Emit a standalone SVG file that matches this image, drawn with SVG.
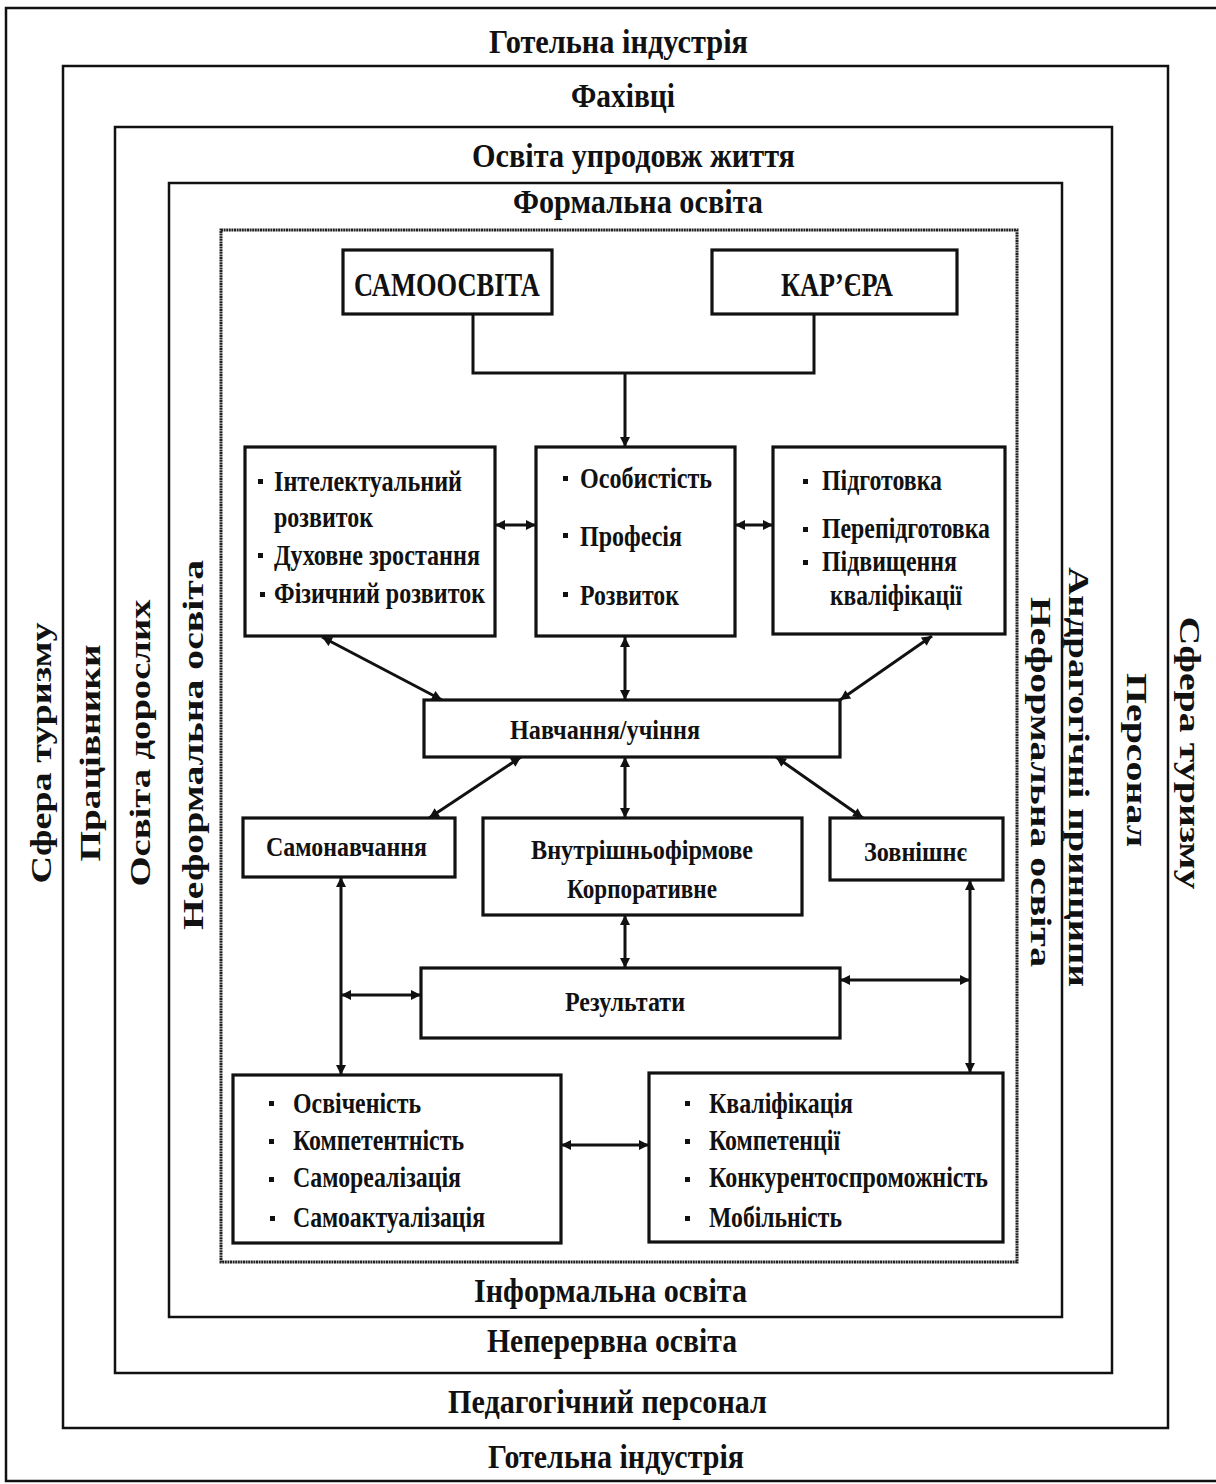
<svg xmlns="http://www.w3.org/2000/svg" width="1216" height="1484" viewBox="0 0 1216 1484">
<style>
.frame{fill:none;stroke:#111;stroke-width:2.5}
.inner{fill:none;stroke:#222;stroke-width:3;stroke-dasharray:2 0.6}
.box{fill:#fff;stroke:#111;stroke-width:3.2}
.t{font-family:"Liberation Serif","Times New Roman",serif;font-weight:bold;fill:#111}
.lbl{font-size:34px}
.vt{font-size:30px}
.it{font-size:29px}
.bx{font-size:28px}
.big{font-size:34px}
.conn{fill:none;stroke:#111;stroke-width:3}
.dbl{marker-start:url(#ah);marker-end:url(#ah)}
.one{marker-end:url(#ah)}
</style>
<defs>
<marker id="ah" viewBox="0 0 10 10" refX="10" refY="5" markerWidth="11" markerHeight="10" markerUnits="userSpaceOnUse" orient="auto-start-reverse">
<path d="M0,0 L10,5 L0,10 z" fill="#111"/>
</marker>
</defs>
<rect width="1216" height="1484" fill="#fff"/>

<g id="frames">
<rect id="frame-hotel" class="frame" x="6" y="8" width="1220" height="1473"/>
<rect id="frame-fakhivtsi" class="frame" x="63" y="66" width="1105" height="1362"/>
<rect id="frame-osvita-zhyttia" class="frame" x="115" y="127" width="997" height="1246"/>
<rect id="frame-formalna" class="frame" x="169" y="183" width="893" height="1134"/>
<rect id="frame-inner" class="inner" x="221" y="230" width="796" height="1032"/>
</g>

<g id="frame-labels">
<text class="t lbl" x="489" y="53" textLength="259" lengthAdjust="spacingAndGlyphs">Готельна індустрія</text>
<text class="t lbl" x="571" y="107" textLength="104" lengthAdjust="spacingAndGlyphs">Фахівці</text>
<text class="t lbl" x="472" y="167" textLength="323" lengthAdjust="spacingAndGlyphs">Освіта упродовж життя</text>
<text class="t lbl" x="513" y="213" textLength="250" lengthAdjust="spacingAndGlyphs">Формальна освіта</text>
<text class="t lbl" x="474" y="1302" textLength="273" lengthAdjust="spacingAndGlyphs">Інформальна освіта</text>
<text class="t lbl" x="487" y="1352" textLength="250" lengthAdjust="spacingAndGlyphs">Неперервна освіта</text>
<text class="t lbl" x="448" y="1413" textLength="319" lengthAdjust="spacingAndGlyphs">Педагогічний персонал</text>
<text class="t lbl" x="488" y="1468" textLength="256" lengthAdjust="spacingAndGlyphs">Готельна індустрія</text>

<text class="t vt" transform="translate(51,753) rotate(-90)" text-anchor="middle" textLength="261" lengthAdjust="spacingAndGlyphs">Сфера туризму</text>
<text class="t vt" transform="translate(100,753) rotate(-90)" text-anchor="middle" textLength="217" lengthAdjust="spacingAndGlyphs">Працівники</text>
<text class="t vt" transform="translate(150,743) rotate(-90)" text-anchor="middle" textLength="287" lengthAdjust="spacingAndGlyphs">Освіта дорослих</text>
<text class="t vt" transform="translate(203,745) rotate(-90)" text-anchor="middle" textLength="370" lengthAdjust="spacingAndGlyphs">Неформальна освіта</text>

<text class="t vt" transform="translate(1180,753) rotate(90)" text-anchor="middle" textLength="273" lengthAdjust="spacingAndGlyphs">Сфера туризму</text>
<text class="t vt" transform="translate(1127,760) rotate(90)" text-anchor="middle" textLength="174" lengthAdjust="spacingAndGlyphs">Персонал</text>
<text class="t vt" transform="translate(1069,777) rotate(90)" text-anchor="middle" textLength="420" lengthAdjust="spacingAndGlyphs">Андрагогічні принципи</text>
<text class="t vt" transform="translate(1031,782) rotate(90)" text-anchor="middle" textLength="370" lengthAdjust="spacingAndGlyphs">Неформальна освіта</text>
</g>

<g id="connectors">
<path class="conn" d="M473,314 V373 H814 V314"/>
<path class="conn one" d="M625,373 V447"/>
<path class="conn dbl" d="M495,525 H536"/>
<path class="conn dbl" d="M735,525 H773"/>
<path class="conn dbl" d="M322,637 L442,700"/>
<path class="conn dbl" d="M625,637 V700"/>
<path class="conn dbl" d="M932,636 L840,700"/>
<path class="conn dbl" d="M521,757 L429,818"/>
<path class="conn dbl" d="M625,757 V818"/>
<path class="conn dbl" d="M776,757 L863,818"/>
<path class="conn dbl" d="M625,915 V968"/>
<path class="conn dbl" d="M341,877 V1075"/>
<path class="conn dbl" d="M341,995 H421"/>
<path class="conn dbl" d="M970,880 V1073"/>
<path class="conn dbl" d="M840,980 H970"/>
<path class="conn dbl" d="M561,1145 H649"/>
</g>

<g id="samoosvita">
<rect class="box" x="343" y="250" width="209" height="64"/>
<text class="t big" x="354" y="296" textLength="186" lengthAdjust="spacingAndGlyphs">САМООСВІТА</text>
</g>
<g id="karyera">
<rect class="box" x="712" y="250" width="245" height="64"/>
<text class="t big" x="781" y="296" textLength="112" lengthAdjust="spacingAndGlyphs">КАР’ЄРА</text>
</g>

<g id="rozvytok-box">
<rect class="box" x="245" y="447" width="250" height="189"/>
<rect x="258" y="479" width="5" height="5" fill="#111"/>
<rect x="258" y="553" width="5" height="5" fill="#111"/>
<rect x="260" y="592" width="5" height="5" fill="#111"/>
<text class="t it" x="274" y="491" textLength="188" lengthAdjust="spacingAndGlyphs">Інтелектуальний</text>
<text class="t it" x="274" y="527" textLength="99" lengthAdjust="spacingAndGlyphs">розвиток</text>
<text class="t it" x="274" y="565" textLength="206" lengthAdjust="spacingAndGlyphs">Духовне зростання</text>
<text class="t it" x="274" y="603" textLength="211" lengthAdjust="spacingAndGlyphs">Фізичний розвиток</text>
</g>

<g id="osobystist-box">
<rect class="box" x="536" y="447" width="199" height="189"/>
<rect x="563" y="476" width="5" height="5" fill="#111"/>
<rect x="563" y="533" width="5" height="5" fill="#111"/>
<rect x="563" y="592" width="5" height="5" fill="#111"/>
<text class="t it" x="580" y="488" textLength="132" lengthAdjust="spacingAndGlyphs">Особистість</text>
<text class="t it" x="580" y="546" textLength="102" lengthAdjust="spacingAndGlyphs">Професія</text>
<text class="t it" x="580" y="605" textLength="99" lengthAdjust="spacingAndGlyphs">Розвиток</text>
</g>

<g id="pidhotovka-box">
<rect class="box" x="773" y="447" width="232" height="187"/>
<rect x="803" y="479" width="5" height="5" fill="#111"/>
<rect x="803" y="527" width="5" height="5" fill="#111"/>
<rect x="803" y="560" width="5" height="5" fill="#111"/>
<text class="t it" x="822" y="490" textLength="120" lengthAdjust="spacingAndGlyphs">Підготовка</text>
<text class="t it" x="822" y="538" textLength="168" lengthAdjust="spacingAndGlyphs">Перепідготовка</text>
<text class="t it" x="822" y="571" textLength="135" lengthAdjust="spacingAndGlyphs">Підвищення</text>
<text class="t it" x="830" y="605" textLength="132" lengthAdjust="spacingAndGlyphs">кваліфікації</text>
</g>

<g id="navchannia">
<rect class="box" x="424" y="700" width="416" height="57"/>
<text class="t bx" x="510" y="739" textLength="190" lengthAdjust="spacingAndGlyphs">Навчання/учіння</text>
</g>

<g id="samonavchannia">
<rect class="box" x="243" y="818" width="212" height="59"/>
<text class="t bx" x="266" y="856" textLength="161" lengthAdjust="spacingAndGlyphs">Самонавчання</text>
</g>

<g id="vnutrishnofirmove">
<rect class="box" x="483" y="818" width="319" height="97"/>
<text class="t bx" x="531" y="859" textLength="222" lengthAdjust="spacingAndGlyphs">Внутрішньофірмове</text>
<text class="t bx" x="567" y="898" textLength="150" lengthAdjust="spacingAndGlyphs">Корпоративне</text>
</g>

<g id="zovnishnie">
<rect class="box" x="830" y="818" width="173" height="62"/>
<text class="t bx" x="864" y="861" textLength="103" lengthAdjust="spacingAndGlyphs">Зовнішнє</text>
</g>

<g id="rezultaty">
<rect class="box" x="421" y="968" width="419" height="70"/>
<text class="t bx" x="565" y="1011" textLength="120" lengthAdjust="spacingAndGlyphs">Результати</text>
</g>

<g id="osvichenist-box">
<rect class="box" x="233" y="1075" width="328" height="168"/>
<rect x="269" y="1101" width="5" height="5" fill="#111"/>
<rect x="269" y="1139" width="5" height="5" fill="#111"/>
<rect x="269" y="1177" width="5" height="5" fill="#111"/>
<rect x="270" y="1216" width="5" height="5" fill="#111"/>
<text class="t it" x="293" y="1113" textLength="128" lengthAdjust="spacingAndGlyphs">Освіченість</text>
<text class="t it" x="293" y="1150" textLength="171" lengthAdjust="spacingAndGlyphs">Компетентність</text>
<text class="t it" x="293" y="1187" textLength="168" lengthAdjust="spacingAndGlyphs">Самореалізація</text>
<text class="t it" x="293" y="1227" textLength="192" lengthAdjust="spacingAndGlyphs">Самоактуалізація</text>
</g>

<g id="kvalifikatsiia-box">
<rect class="box" x="649" y="1073" width="354" height="169"/>
<rect x="685" y="1101" width="5" height="5" fill="#111"/>
<rect x="685" y="1139" width="5" height="5" fill="#111"/>
<rect x="685" y="1177" width="5" height="5" fill="#111"/>
<rect x="685" y="1216" width="5" height="5" fill="#111"/>
<text class="t it" x="709" y="1113" textLength="144" lengthAdjust="spacingAndGlyphs">Кваліфікація</text>
<text class="t it" x="709" y="1150" textLength="131" lengthAdjust="spacingAndGlyphs">Компетенції</text>
<text class="t it" x="709" y="1187" textLength="279" lengthAdjust="spacingAndGlyphs">Конкурентоспроможність</text>
<text class="t it" x="709" y="1227" textLength="133" lengthAdjust="spacingAndGlyphs">Мобільність</text>
</g>
</svg>
